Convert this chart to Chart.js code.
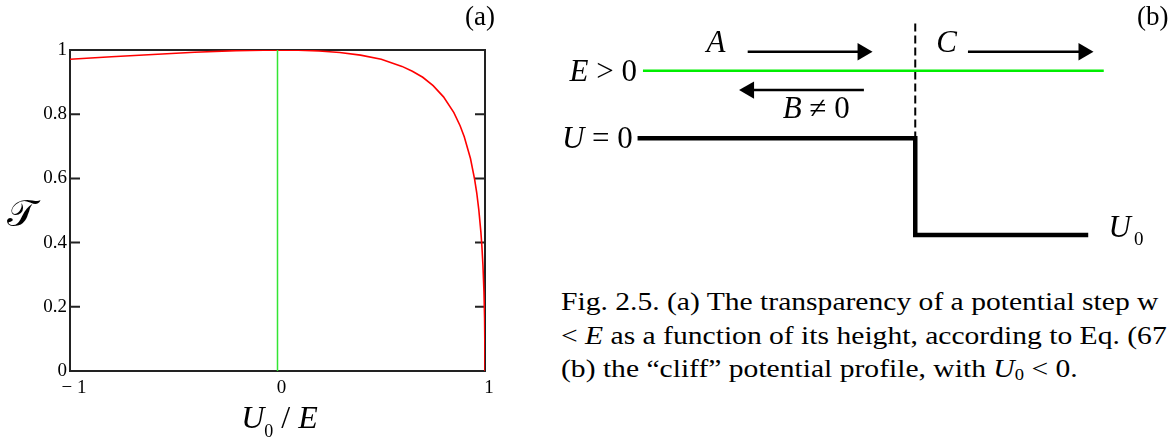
<!DOCTYPE html>
<html>
<head>
<meta charset="utf-8">
<script src="https://cdn.jsdelivr.net/npm/chart.js@4.4.1/dist/chart.umd.min.js"></script>
<style>
  body { margin: 0; background: #fff; width: 1172px; height: 440px; overflow: hidden; position: relative; font-family: "Liberation Serif", serif; color: #000; }
  #wrapA { position: absolute; left: 0; top: 0; }
  #wrapB { position: absolute; left: 520px; top: 0; }
  .tag { position: absolute; font-size: 27px; line-height: 27px; }
  #caption { position: absolute; left: 561px; top: 285px; font-size: 25.5px; line-height: 33.5px; white-space: nowrap; transform: scaleX(1.16); transform-origin: 0 0; }
  #caption sub { font-size: 16px; vertical-align: -3px; line-height: 0; }
</style>
</head>
<body>
<div id="wrapA"><canvas id="chartA" width="520" height="440"></canvas></div>
<div id="wrapB"><canvas id="chartB" width="652" height="260"></canvas></div>
<div class="tag" style="left:465px; top:3px;">(a)</div>
<div class="tag" style="left:1137px; top:3px;">(b)</div>
<div id="caption">Fig. 2.5. (a) The transparency of a potential step w<br>&lt; <i>E</i> as a function of its height, according to Eq. (67<br>(b) the “cliff” potential profile, with <i>U</i><sub>0</sub> &lt; 0.</div>
<script>
// (a) transparency vs U0/E
const stepU = [-1, -0.8, -0.6, -0.4, -0.2, 0, 0.1, 0.2, 0.3, 0.4, 0.5, 0.6, 0.65, 0.7, 0.75, 0.8, 0.85, 0.88, 0.9, 0.93, 0.95, 0.96, 0.97, 0.98, 0.985, 0.99, 0.995, 0.998, 0.999, 0.9995, 1];
const transparency = [0.971, 0.979, 0.986, 0.993, 0.998, 1.0, 0.999, 0.997, 0.992, 0.984, 0.971, 0.949, 0.934, 0.915, 0.889, 0.854, 0.805, 0.764, 0.730, 0.662, 0.597, 0.556, 0.503, 0.434, 0.389, 0.331, 0.247, 0.164, 0.119, 0.086, 0];
const markerU = [0, 0];
const markerT = [0, 1];
const yTickValues = [0, 0.2, 0.4, 0.6, 0.8, 1];
const xTickLabels = { '-1': '\u2212 1', '0': '0', '1': '1' };

// (b) cliff potential sketch, in energy units (E = 1, step at x = 0)
const energyX = [-4.03, 2.79];
const energyY = [1, 1];
const profileX = [-4.11, 0, 0, 2.56];
const profileY = [0, 0, -1.43, -1.43];
const dashX = [0, 0];
const dashY = [1.70, 0];
const arrowA = { x: [-2.48, -0.78], y: [1.28, 1.28] };
const arrowC = { x: [0.78, 2.49], y: [1.28, 1.28] };
const arrowB = { x: [-0.76, -2.46], y: [0.714, 0.714] };

const pts = (xs, ys) => xs.map((x, i) => ({ x: x, y: ys[i] }));
const serif = '"Liberation Serif", "Times New Roman", serif';

const frameA = {
  id: 'frameA',
  beforeDatasetsDraw(chart) {
    const { ctx, chartArea: a, scales } = chart;
    ctx.save();
    ctx.strokeStyle = '#222';
    ctx.lineWidth = 2;
    ctx.strokeRect(a.left, a.top, a.right - a.left, a.bottom - a.top);
    yTickValues.forEach(v => {
      const y = scales.y.getPixelForValue(v);
      ctx.beginPath();
      ctx.moveTo(a.left, y); ctx.lineTo(a.left + 10, y);
      ctx.moveTo(a.right, y); ctx.lineTo(a.right - 10, y);
      ctx.stroke();
    });
    ctx.restore();
  },
  afterDraw(chart) {
    const { ctx, chartArea: a } = chart;
    ctx.save();
    ctx.fillStyle = '#000';
    ctx.textBaseline = 'alphabetic';
    // x title: U0 / E
    const big = 'italic 32px ' + serif, sub = '18px ' + serif, up = '32px ' + serif;
    const runs = [['U', big, 0], ['0', sub, 9], [' / ', up, 0], ['E', big, 0]];
    let w = 0;
    runs.forEach(r => { ctx.font = r[1]; w += ctx.measureText(r[0]).width; });
    let x = (a.left + a.right) / 2 - w / 2 + 2;
    runs.forEach(r => { ctx.font = r[1]; ctx.fillText(r[0], x, 428 + r[2]); x += ctx.measureText(r[0]).width; });
    // y title
    ctx.font = '38px ' + serif;
    ctx.textAlign = 'center';
    ctx.fillText('\u{1D4AF}', 21, 226);
    ctx.restore();
  }
};

new Chart(document.getElementById('chartA'), {
  type: 'scatter',
  data: {
    datasets: [
      { data: pts(markerU, markerT), showLine: true, borderColor: '#33e633', borderWidth: 1.5, pointRadius: 0 },
      { data: pts(stepU, transparency), showLine: true, borderColor: '#ff0000', borderWidth: 1.6, pointRadius: 0, tension: 0 }
    ]
  },
  options: {
    responsive: false,
    animation: false,
    events: [],
    layout: { autoPadding: false, padding: { left: 0, right: 35, top: 50, bottom: 0 } },
    plugins: { legend: { display: false }, tooltip: { enabled: false } },
    scales: {
      x: {
        type: 'linear', min: -1, max: 1,
        grid: { display: false, drawTicks: false }, border: { display: false },
        afterFit: s => { s.height = 69; },
        ticks: { stepSize: 1, padding: 6, labelOffset: 4, color: '#000', font: { family: serif, size: 19 },
          callback: v => xTickLabels[String(v)] }
      },
      y: {
        min: 0, max: 1,
        grid: { display: false, drawTicks: false }, border: { display: false },
        afterFit: s => { s.width = 70; },
        afterBuildTicks: s => { s.ticks = yTickValues.map(v => ({ value: v })); },
        ticks: { padding: 3, color: '#000', font: { family: serif, size: 19 },
          callback: v => String(Math.round(v * 10) / 10) }
      }
    }
  },
  plugins: [frameA]
});

// text labels for the sketch, anchored in data units
const diagramText = [
  { x: -3.09, y: 1.28, align: 'left', runs: [['A', 'i']] },
  { x: 0.31, y: 1.28, align: 'left', runs: [['C', 'i']] },
  { x: -4.12, y: 0.85, align: 'right', runs: [['E', 'i'], [' > 0', 'n']] },
  { x: -1.96, y: 0.30, align: 'left', runs: [['B', 'i'], [' \u2260 0', 'n']] },
  { x: -4.18, y: -0.14, align: 'right', runs: [['U', 'i'], [' = 0', 'n']] },
  { x: 2.86, y: -1.46, align: 'left', runs: [['U', 'i'], ['0', 's']] }
];

const textB = {
  id: 'textB',
  afterDatasetsDraw(chart) {
    const { ctx, scales } = chart;
    const fonts = { i: 'italic 31px ' + serif, n: '31px ' + serif, s: '19px ' + serif };
    const shift = { i: 0, n: 0, s: 8 };
    ctx.save();
    ctx.fillStyle = '#000';
    ctx.textBaseline = 'alphabetic';
    diagramText.forEach(lb => {
      let w = 0;
      lb.runs.forEach(r => { ctx.font = fonts[r[1]]; w += ctx.measureText(r[0]).width; });
      let x = scales.x.getPixelForValue(lb.x);
      if (lb.align === 'right') x -= w;
      const y = scales.y.getPixelForValue(lb.y);
      lb.runs.forEach(r => {
        ctx.font = fonts[r[1]];
        ctx.fillText(r[0], x + (r[1] === 's' ? 3 : 0), y + shift[r[1]]);
        x += ctx.measureText(r[0]).width;
      });
    });
    ctx.restore();
  }
};

const arrowSet = (a, rot) => ({
  data: pts(a.x, a.y), showLine: true, borderColor: '#000', borderWidth: 2.5,
  pointRadius: [0, 10], pointStyle: 'triangle', pointRotation: rot,
  pointBackgroundColor: '#000', pointBorderColor: '#000', pointBorderWidth: 0
});

new Chart(document.getElementById('chartB'), {
  type: 'scatter',
  data: {
    datasets: [
      { data: pts(energyX, energyY), showLine: true, borderColor: '#00ee00', borderWidth: 2.5, pointRadius: 0 },
      { data: pts(dashX, dashY), showLine: true, borderColor: '#000', borderWidth: 2, borderDash: [8, 4], pointRadius: 0 },
      { data: pts(profileX, profileY), showLine: true, borderColor: '#000', borderWidth: 4.5, pointRadius: 0, borderJoinStyle: 'miter' },
      arrowSet(arrowA, 90),
      arrowSet(arrowC, 90),
      arrowSet(arrowB, 270)
    ]
  },
  options: {
    responsive: false,
    animation: false,
    events: [],
    layout: { autoPadding: false, padding: 0 },
    plugins: { legend: { display: false }, tooltip: { enabled: false } },
    scales: {
      x: { type: 'linear', min: -5.85, max: 3.80, display: false },
      y: { min: -1.80, max: 2.046, display: false }
    }
  },
  plugins: [textB]
});
</script>
</body>
</html>
